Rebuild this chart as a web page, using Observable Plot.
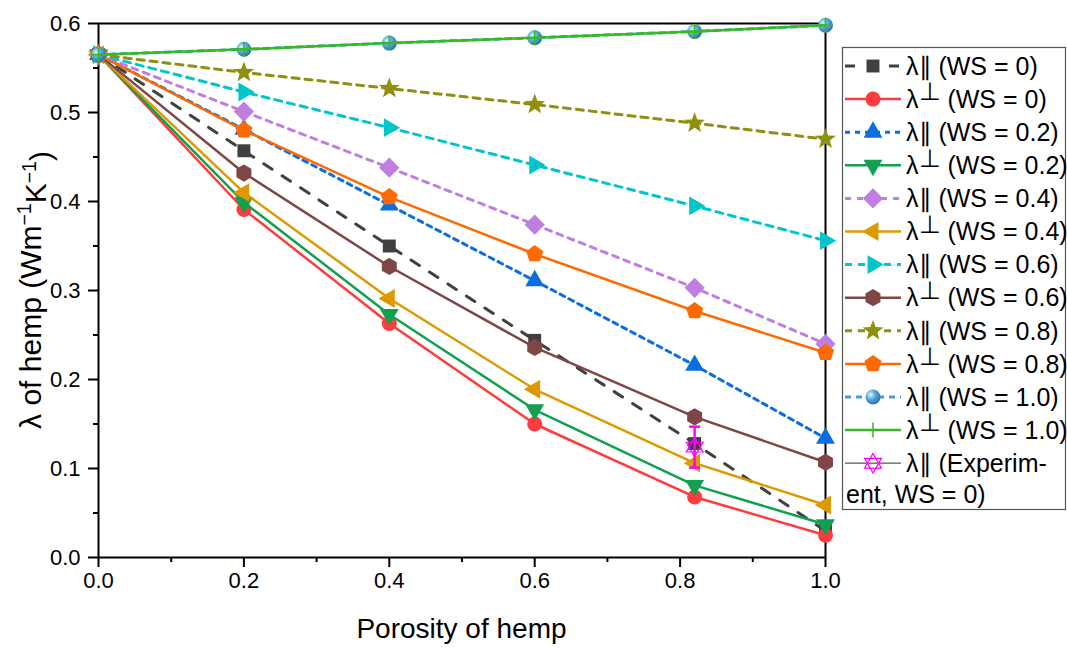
<!DOCTYPE html>
<html>
<head>
<meta charset="utf-8">
<script src="https://cdn.jsdelivr.net/npm/d3@7"></script>
<script src="https://cdn.jsdelivr.net/npm/@observablehq/plot@0.6"></script>
<style>
  html, body { margin: 0; padding: 0; background: white; }
  #chart { width: 1067px; height: 648px; }
</style>
</head>
<body>
<div id="chart"></div>
<script>
// ---------- data ----------
const porosity = [0, 0.2, 0.4, 0.6, 0.82, 1.0];
const xTicks = [0, 0.2, 0.4, 0.6, 0.8, 1.0];
const xMinor = [0.1, 0.3, 0.5, 0.7, 0.9];
const yTicks = [0, 0.1, 0.2, 0.3, 0.4, 0.5, 0.6];
const yMinor = [0.05, 0.15, 0.25, 0.35, 0.45, 0.55];

const par00  = [0.565, 0.457, 0.350, 0.244, 0.128, 0.030];
const perp00 = [0.565, 0.391, 0.263, 0.150, 0.068, 0.025];
const par02  = [0.565, 0.481, 0.396, 0.311, 0.216, 0.134];
const perp02 = [0.565, 0.399, 0.273, 0.166, 0.081, 0.037];
const par04  = [0.565, 0.501, 0.438, 0.374, 0.303, 0.240];
const perp04 = [0.565, 0.410, 0.291, 0.189, 0.106, 0.059];
const par06  = [0.565, 0.523, 0.483, 0.441, 0.395, 0.356];
const perp06 = [0.565, 0.432, 0.327, 0.236, 0.158, 0.107];
const par08  = [0.565, 0.545, 0.527, 0.509, 0.488, 0.470];
const perp08 = [0.565, 0.480, 0.405, 0.341, 0.277, 0.230];
const par10  = [0.565, 0.571, 0.578, 0.584, 0.591, 0.598];
const perp10 = [0.565, 0.571, 0.578, 0.584, 0.591, 0.598];

const expX = [0.82];
const expY = [0.124];
const expErr = [0.023];

const seriesLabels = [
  ["∥", "WS = 0"], ["⊥", "WS = 0"], ["∥", "WS = 0.2"], ["⊥", "WS = 0.2"],
  ["∥", "WS = 0.4"], ["⊥", "WS = 0.4"], ["∥", "WS = 0.6"], ["⊥", "WS = 0.6"],
  ["∥", "WS = 0.8"], ["⊥", "WS = 0.8"], ["∥", "WS = 1.0"], ["⊥", "WS = 1.0"]
];
const seriesValues = [par00, perp00, par02, perp02, par04, perp04, par06, perp06, par08, perp08, par10, perp10];

// ---------- symbols ----------
function poly(n, a0, k) {
  return { draw(ctx, size) {
    const r = Math.sqrt(size / Math.PI) * k;
    for (let i = 0; i < n; i++) {
      const a = a0 + i * 2 * Math.PI / n;
      const px = r * Math.sin(a), py = -r * Math.cos(a);
      if (i) ctx.lineTo(px, py); else ctx.moveTo(px, py);
    }
    ctx.closePath();
  }};
}
const starSym = { draw(ctx, size) {
  const R = Math.sqrt(size / Math.PI) * 1.45, r = R * 0.42;
  for (let i = 0; i < 10; i++) {
    const a = i * Math.PI / 5, rr = i % 2 ? r : R;
    const px = rr * Math.sin(a), py = -rr * Math.cos(a);
    if (i) ctx.lineTo(px, py); else ctx.moveTo(px, py);
  }
  ctx.closePath();
}};
const plusSym = { draw(ctx, size) {
  const r = Math.sqrt(size / Math.PI) * 1.0;
  ctx.moveTo(-r, 0); ctx.lineTo(r, 0); ctx.moveTo(0, -r); ctx.lineTo(0, r);
}};
const expSym = { draw(ctx, size) {
  const r = Math.sqrt(size / Math.PI) * 1.3;
  const up = [0, 1, 2].map(i => { const a = i * 2 * Math.PI / 3; return [r * Math.sin(a), -r * Math.cos(a)]; });
  ctx.moveTo(...up[0]); ctx.lineTo(...up[1]); ctx.lineTo(...up[2]); ctx.closePath();
  const down = [0, 1, 2].map(i => { const a = Math.PI + i * 2 * Math.PI / 3; return [r * Math.sin(a), -r * Math.cos(a)]; });
  ctx.moveTo(...down[0]); ctx.lineTo(...down[1]); ctx.lineTo(...down[2]); ctx.closePath();
}};
const capSym = { draw(ctx, size) {
  const r = Math.sqrt(size / Math.PI);
  ctx.moveTo(-r, 0); ctx.lineTo(r, 0);
}};

const styles = [
  {color: "#404040", dash: "10,12", w: 3, sym: poly(4, Math.PI/4, 1.22)},
  {color: "#ff3b3b", dash: null, w: 2.5, sym: d3.symbolCircle},
  {color: "#0a6de0", dash: "5,5", w: 3, sym: poly(3, 0, 1.45)},
  {color: "#10a050", dash: null, w: 2.5, sym: poly(3, Math.PI, 1.45)},
  {color: "#c07ee0", dash: "6,6", w: 3, sym: poly(4, 0, 1.35)},
  {color: "#dc9a00", dash: null, w: 2.5, sym: poly(3, -Math.PI/2, 1.45)},
  {color: "#00c6cc", dash: "7,6", w: 3, sym: poly(3, Math.PI/2, 1.45)},
  {color: "#7f4646", dash: null, w: 2.5, sym: poly(6, 0, 1.15)},
  {color: "#8f8f10", dash: "7,6", w: 3, sym: starSym},
  {color: "#ff6a00", dash: null, w: 2.5, sym: poly(5, 0, 1.2)},
  {color: "#4a9bd6", dash: "6,5", w: 3, sym: d3.symbolCircle, fill: "url(#sphereGrad)"},
  {color: "#33bb22", dash: null, w: 2.5, sym: plusSym, stroke: true}
];

const FONT = "'Liberation Sans', Arial, Helvetica, sans-serif";
const R = 7.5;

const marks = [
  Plot.frame({stroke: "black", strokeWidth: 2}),
  Plot.axisX({ticks: xTicks, tickSize: 10, tickPadding: 5, strokeWidth: 2, fontSize: 22,
               tickFormat: d3.format(".1f"), label: null}),
  Plot.axisX({ticks: xMinor, tickSize: 5, strokeWidth: 2, tickFormat: () => "", label: null}),
  Plot.axisY({ticks: yTicks, tickSize: 10, tickPadding: 8, strokeWidth: 2, fontSize: 22,
              tickFormat: d3.format(".1f"), label: null}),
  Plot.axisY({ticks: yMinor, tickSize: 5, strokeWidth: 2, tickFormat: () => "", label: null})
];

seriesValues.forEach((vals, i) => {
  const s = styles[i];
  const data = porosity.map((x, j) => ({x, y: vals[j]}));
  marks.push(Plot.line(data, {x: "x", y: "y", stroke: s.color, strokeWidth: s.w,
    strokeDasharray: s.dash || undefined}));
  if (s.stroke) {
    marks.push(Plot.dot(data, {x: "x", y: "y", symbol: s.sym, r: R, stroke: s.color, strokeWidth: 1.5, fill: "none"}));
  } else {
    marks.push(Plot.dot(data, {x: "x", y: "y", symbol: s.sym, r: R, fill: s.fill || s.color, stroke: "none"}));
  }
});

const expData = expX.map((x, i) => ({x, y: expY[i], e: expErr[i]}));
marks.push(Plot.ruleX(expData, {x: "x", y1: d => d.y - d.e, y2: d => d.y + d.e, stroke: "#ff00ff", strokeWidth: 2.5}));
marks.push(Plot.dot(expData, {x: "x", y: d => d.y - d.e, symbol: capSym, r: 5.5, stroke: "#ff00ff", strokeWidth: 2.5}));
marks.push(Plot.dot(expData, {x: "x", y: d => d.y + d.e, symbol: capSym, r: 5.5, stroke: "#ff00ff", strokeWidth: 2.5}));
marks.push(Plot.dot(expData, {x: "x", y: "y", symbol: expSym, r: R, stroke: "#ff00ff", strokeWidth: 1.2, fill: "none"}));

const chart = Plot.plot({
  width: 1067, height: 648,
  marginLeft: 98, marginRight: 242, marginTop: 23, marginBottom: 91,
  x: {domain: [0, 1]},
  y: {domain: [0, 0.6]},
  style: {fontFamily: FONT, fontSize: "22px", color: "black", background: "white"},
  marks
});

document.getElementById("chart").appendChild(chart);

const svg = d3.select(chart);
// gradient for sphere marker
const defs = svg.insert("defs", ":first-child");
const grad = defs.append("radialGradient").attr("id", "sphereGrad")
  .attr("cx", "35%").attr("cy", "35%").attr("r", "70%");
grad.append("stop").attr("offset", "0%").attr("stop-color", "#e8f4fc");
grad.append("stop").attr("offset", "45%").attr("stop-color", "#5aa8e0");
grad.append("stop").attr("offset", "100%").attr("stop-color", "#2a6fa8");

// ---------- axis titles ----------
const xr = chart.scale("x").range, yr = chart.scale("y").range;
const xc = (xr[0] + xr[1]) / 2, yc = (yr[0] + yr[1]) / 2;
const titles = svg.append("g").attr("font-family", FONT).attr("text-anchor", "middle").attr("fill", "black");
titles.append("text").attr("x", xc).attr("y", yr[0] + 71).attr("dy", "0.35em")
  .attr("font-size", 28).text("Porosity of hemp");
const yt = titles.append("text").attr("transform", `translate(30,${yc}) rotate(-90)`)
  .attr("dy", "0.35em").attr("font-size", 30);
yt.append("tspan").text("λ of hemp (Wm");
yt.append("tspan").attr("dy", "-0.5em").attr("font-size", "0.65em").text("−1");
yt.append("tspan").attr("dy", "0.5em").text("K");
yt.append("tspan").attr("dy", "-0.5em").attr("font-size", "0.65em").text("−1");
yt.append("tspan").attr("dy", "0.5em").text(")");

// ---------- legend ----------
const lg = svg.append("g").attr("font-family", FONT).attr("font-size", 25).attr("text-anchor", "start");
lg.append("rect").attr("x", 842.5).attr("y", 47.5).attr("width", 223).attr("height", 462)
  .attr("fill", "white").attr("stroke", "#555").attr("stroke-width", 1.2);
const rowY = i => 66 + 33.1 * i;
function legendLabel(g, y, kind, rest) {
  const t = g.append("text").attr("x", 906).attr("y", y).attr("dy", "0.35em").attr("fill", "black");
  t.append("tspan").text("λ");
  if (kind === "⊥") {
    t.append("tspan").attr("dy", "-0.3em").text("⊥");
    t.append("tspan").attr("dy", "0.3em").text(" " + rest);
  } else {
    t.append("tspan").text("∥");
    t.append("tspan").text(" " + rest);
  }
}
seriesLabels.forEach(([kind, ws], i) => {
  const s = styles[i];
  const y = rowY(i);
  lg.append("line").attr("x1", 845).attr("x2", 901).attr("y1", y).attr("y2", y)
    .attr("stroke", s.color).attr("stroke-width", s.w).attr("stroke-dasharray", s.dash);
  const path = d3.symbol().type(s.sym).size(Math.PI * R * R)();
  const p = lg.append("path").attr("d", path).attr("transform", `translate(873,${y})`);
  if (s.stroke) p.attr("fill", "none").attr("stroke", s.color).attr("stroke-width", 1.5);
  else p.attr("fill", s.fill || s.color);
  legendLabel(lg, y, kind, "(" + ws + ")");
});
{
  const y = rowY(12);
  lg.append("line").attr("x1", 845).attr("x2", 901).attr("y1", y).attr("y2", y)
    .attr("stroke", "#555").attr("stroke-width", 1.2);
  lg.append("path").attr("d", d3.symbol().type(expSym).size(Math.PI * R * R)())
    .attr("transform", `translate(873,${y})`).attr("fill", "none").attr("stroke", "#ff00ff").attr("stroke-width", 1.2);
  legendLabel(lg, y, "∥", "(Experim-");
  lg.append("text").attr("x", 846).attr("y", y + 31).attr("dy", "0.35em").text("ent, WS = 0)");
}
</script>
</body>
</html>
